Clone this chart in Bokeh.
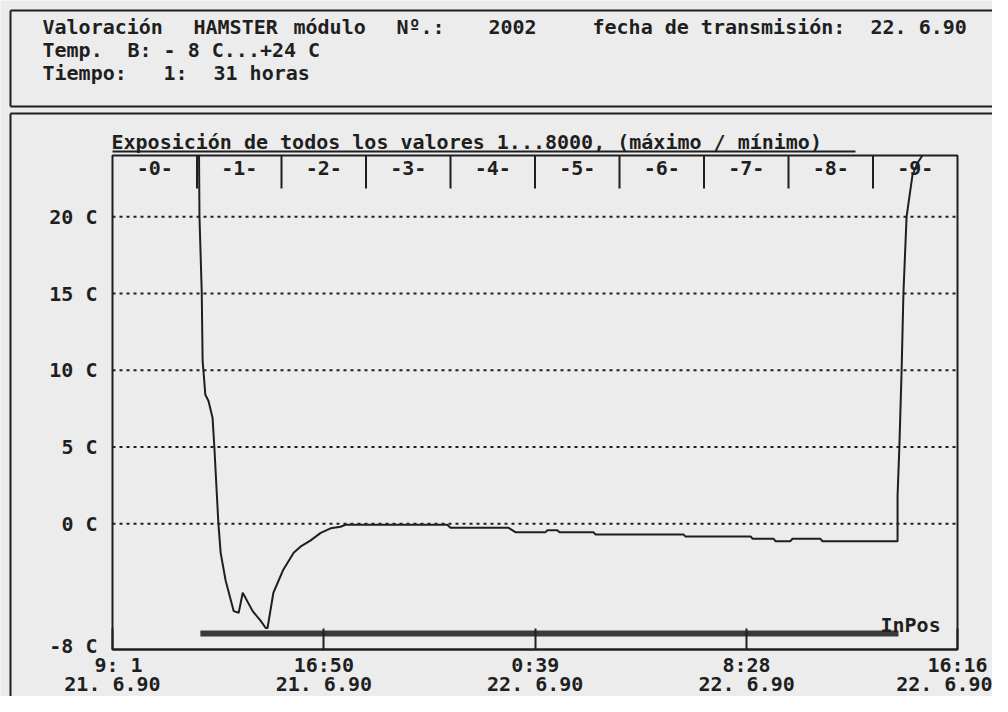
from bokeh.plotting import figure
from bokeh.models import Range1d, FixedTicker, LinearAxis, Label
from bokeh.core.properties import value
from bokeh.embed import file_html
from bokeh.resources import INLINE

# ---------------- data ----------------
# x: minutes since 21.6.90 9:01 ; y: temperature in C
time_ticks = [0, 469, 938, 1407, 1875]
time_labels = ["\u00a09:\u00a01", "16:50", "0:39", "8:28", "16:16"]
date_labels = ["21. 6.90", "21. 6.90", "22. 6.90", "22. 6.90", "22. 6.90"]
temp_ticks = [-8, 0, 5, 10, 15, 20]
temp_labels = ["-8 C", "0 C", "5 C", "10 C", "15 C", "20 C"]
grid_ticks = [0, 5, 10, 15, 20]
section_labels = ["-0-", "-1-", "-2-", "-3-", "-4-", "-5-", "-6-", "-7-", "-8-", "-9-"]

curve_min = [192, 193, 198, 200, 202, 206, 213, 222, 226, 231, 235, 240, 251, 269,
             280, 289, 311, 328, 340, 344, 357, 379, 402, 417, 439, 462, 484, 506,
             517, 743, 750, 879, 894, 961, 965, 987, 992, 1067, 1072, 1267, 1271,
             1416, 1420, 1467, 1471, 1504, 1509, 1571, 1575, 1742, 1742, 1746, 1751,
             1755, 1762, 1775, 1786, 1797]
curve_temp = [24.0, 20.0, 15.1, 10.6, 9.9, 8.4, 8.0, 6.9, 5.0, 2.2, 0.0, -1.9, -3.7, -5.7,
              -5.8, -4.5, -5.7, -6.3, -6.8, -6.8, -4.5, -3.0, -1.9, -1.5, -1.1, -0.6, -0.3, -0.2,
              -0.07, -0.07, -0.27, -0.27, -0.55, -0.55, -0.42, -0.42, -0.55, -0.55, -0.70, -0.70, -0.83,
              -0.83, -0.98, -0.98, -1.14, -1.14, -0.98, -0.98, -1.14, -1.14, 1.8, 5.0, 10.0,
              15.0, 20.0, 22.7, 23.5, 24.0]

inpos_min = [195, 1744]
inpos_temp = [-7.16, -7.16]

title_text = "Exposición de todos los valores 1...8000, (máximo / mínimo)"

# ---------------- layout / style ----------------
BG = "#ececec"
INK = "#1f1f1f"
FONT = "DejaVu Sans Mono"
W, H = 992, 696
X0, X1 = 0, 1875          # chart x domain (minutes)
Y0, Y1 = -8.2, 24.0       # chart y domain (C)
FL, FR, FT, FB = 112, 957, 155, 649   # chart box in canvas pixels

PXX = (FR - FL) / (X1 - X0)
PXY = (FB - FT) / (Y1 - Y0)
XS, XE = X0 - FL / PXX, X0 + (W - FL) / PXX
YS, YE = Y0 - (H - FB) / PXY, Y1 + FT / PXY


def dx(px):
    return XS + px / PXX


def dy(py):
    return YE - py / PXY


p = figure(width=W, height=H, x_range=Range1d(XS, XE), y_range=Range1d(YS, YE),
           output_backend="svg", toolbar_location=None,
           x_axis_type=None, y_axis_type=None, min_border=0,
           background_fill_color=BG, border_fill_color=BG, outline_line_color=None)

font_kw = dict(major_label_text_font=FONT, major_label_text_font_size="20px",
               major_label_text_font_style="bold", major_label_text_color=INK)

yaxis = LinearAxis(fixed_location=X0, bounds=(Y0, Y1), ticker=FixedTicker(ticks=temp_ticks),
                   major_label_overrides=dict(zip(temp_ticks, temp_labels)),
                   axis_line_color=None, major_tick_in=0, major_tick_out=0,
                   major_label_standoff=15, **font_kw)
p.add_layout(yaxis, "left")

xaxis1 = LinearAxis(fixed_location=Y0, bounds=(X0, X1), ticker=FixedTicker(ticks=time_ticks),
                    major_label_overrides=dict(zip(time_ticks, time_labels)),
                    axis_line_color=INK, axis_line_width=2,
                    major_tick_in=21, major_tick_out=0, major_tick_line_width=2,
                    major_tick_line_color=INK, major_label_standoff=3, **font_kw)
xaxis2 = LinearAxis(fixed_location=Y0, bounds=(X0, X1), ticker=FixedTicker(ticks=time_ticks),
                    major_label_overrides=dict(zip(time_ticks, date_labels)),
                    axis_line_color=None, major_tick_line_color=None,
                    major_tick_in=0, major_tick_out=0,
                    major_label_standoff=22, **font_kw)
p.add_layout(xaxis1, "below")
p.add_layout(xaxis2, "below")

# dotted horizontal grid and chart box
n_g = len(grid_ticks)
p.segment(x0=[X0] * n_g, y0=grid_ticks, x1=[X1] * n_g, y1=grid_ticks,
          line_color=INK, line_width=2, line_dash="3 4")
p.quad(left=[X0], right=[X1], bottom=[Y0], top=[Y1], fill_color=None,
       line_color=INK, line_width=2)

# section header band
n_sec = len(section_labels)
sec_w = (X1 - X0) / n_sec
edges = [X0 + k * sec_w for k in range(1, n_sec)]
mids = [X0 + (k + 0.5) * sec_w for k in range(n_sec)]
p.segment(x0=edges, y0=[dy(188)] * len(edges), x1=edges, y1=[Y1] * len(edges),
          line_color=INK, line_width=2)
p.text(x=mids, y=[dy(167)] * n_sec, text=section_labels, text_align="center",
       text_baseline="middle", text_font=value(FONT), text_font_size="20px",
       text_font_style="bold", text_color=INK)

# traces
p.line(inpos_min, inpos_temp, line_width=6, line_color="#3a3a3a")
p.line(curve_min, curve_temp, line_width=2, line_color=INK)
p.add_layout(Label(x=dx(880), y=dy(624), text="InPos", text_baseline="middle",
                   text_font=FONT, text_font_size="20px", text_font_style="bold",
                   text_color=INK))

# title above the chart box, underlined
p.add_layout(Label(x=dx(111), y=dy(141), text=title_text, text_baseline="middle",
                   text_font=FONT, text_font_size="20px", text_font_style="bold",
                   text_color=INK))
p.segment(x0=[dx(112)], y0=[dy(151)], x1=[dx(855)], y1=[dy(151)],
          line_color=INK, line_width=2)

# header box and lower box outlines
seg = [((10, 10), (1010, 10)), ((10, 10), (10, 106)), ((10, 106), (1010, 106)),
       ((10, 113), (1010, 113)), ((10, 113), (10, 720))]
p.segment(x0=[dx(a[0]) for a, b in seg], y0=[dy(a[1]) for a, b in seg],
          x1=[dx(b[0]) for a, b in seg], y1=[dy(b[1]) for a, b in seg],
          line_color=INK, line_width=2)

header = [
    ("Valoración", 42, 26), ("HAMSTER", 193, 26), ("módulo", 293, 26), ("Nº.:", 396, 26),
    ("2002", 488, 26), ("fecha de transmisión:", 592, 26), ("22. 6.90", 870, 26),
    ("Temp.", 42, 49), ("B: - 8 C...+24 C", 127, 49),
    ("Tiempo:", 42, 72), ("1:", 163, 72), ("31 horas", 213, 72),
]
for txt, px, py in header:
    p.add_layout(Label(x=dx(px), y=dy(py), text=txt, text_baseline="middle",
                       text_font=FONT, text_font_size="20px", text_font_style="bold",
                       text_color=INK))

open("out.html", "w").write(file_html(p, INLINE))
